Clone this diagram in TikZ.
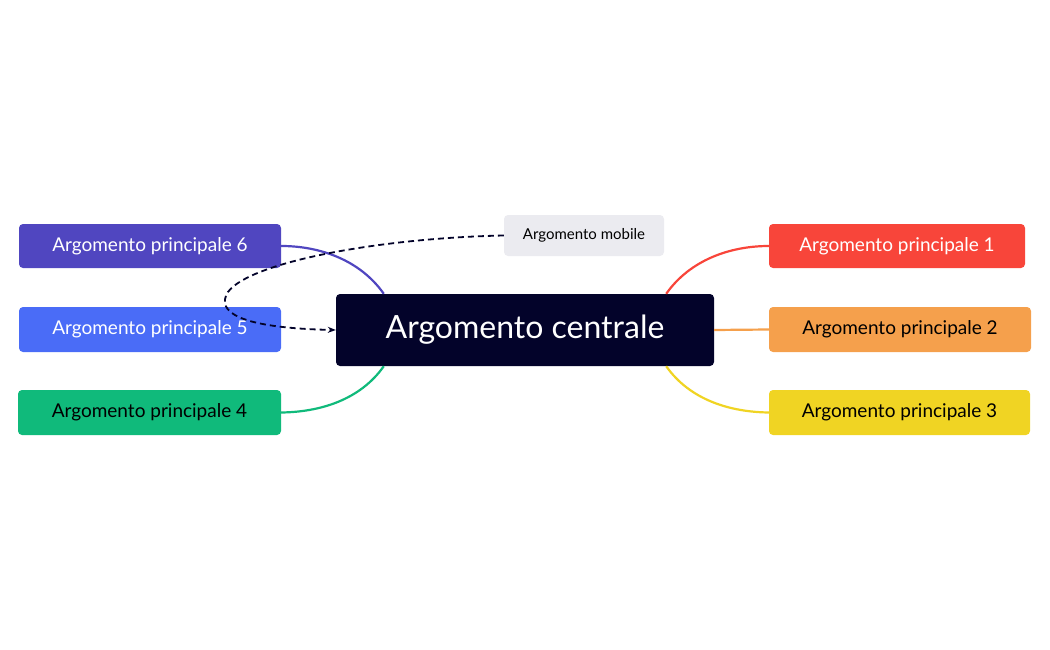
\documentclass[tikz,border=0pt]{standalone}
\usepackage{fontspec}
\setmainfont{Lato}
\usetikzlibrary{arrows.meta}
\definecolor{cnavy}{HTML}{03032A}
\definecolor{c6}{HTML}{5046C0}
\definecolor{c5}{HTML}{4A6CF7}
\definecolor{c4}{HTML}{10BA7B}
\definecolor{c1}{HTML}{F8453A}
\definecolor{c2}{HTML}{F5A04C}
\definecolor{c3}{HTML}{F0D423}
\definecolor{cg}{HTML}{EBEBF0}
\begin{document}
\begin{tikzpicture}[x=1pt,y=-1pt,
  box/.style={rounded corners=4pt,inner sep=0pt,font=\fontsize{19}{22}\selectfont},
  conn/.style={line width=2.2pt}]
\useasboundingbox (0,0) rectangle (1050,650);
\node[box,fill=cnavy,text=white,minimum width=378pt,minimum height=72pt,font=\fontsize{32}{36}\selectfont] (c) at (525,330) {Argomento centrale};
\node[box,fill=c6,text=white,minimum width=262pt,minimum height=44pt] (n6) at (150,246) {Argomento principale 6};
\node[box,fill=c5,text=white,minimum width=262pt,minimum height=45pt] (n5) at (150,329.5) {Argomento principale 5};
\node[box,fill=c4,text=black,minimum width=263pt,minimum height=45pt] (n4) at (149.5,412.5) {Argomento principale 4};
\node[box,fill=c1,text=white,minimum width=256pt,minimum height=44pt] (n1) at (897,246) {Argomento principale 1};
\node[box,fill=c2,text=black,minimum width=262pt,minimum height=45pt] (n2) at (900,329.5) {Argomento principale 2};
\node[box,fill=c3,text=black,minimum width=261pt,minimum height=45pt] (n3) at (899.5,412.5) {Argomento principale 3};
\node[box,fill=cg,text=black,minimum width=160pt,minimum height=41pt,font=\fontsize{15}{18}\selectfont] (m) at (584,235.5) {Argomento mobile};
\begin{scope}[on background layer/.style={}]
\draw[conn,c6] ([xshift=48pt]c.north west) .. controls (360,260) and (320,246) .. (n6.east);
\draw[conn,c4] ([xshift=48pt]c.south west) .. controls (360,400) and (320,412) .. (n4.east);
\draw[conn,c1] ([xshift=-48pt]c.north east) .. controls (690,260) and (730,246) .. (n1.east-|n1.west);
\draw[conn,c2] (c.east) -- (n2.west);
\draw[conn,c3] ([xshift=-48pt]c.south east) .. controls (690,400) and (730,412) .. (n3.west);
\end{scope}
\draw[line width=1.8pt,cnavy,dashed,dash pattern=on 6pt off 4pt,-{Stealth[length=8pt]}] (m.west) .. controls (380,238) and (250,262) .. (228,292) .. controls (215,312) and (240,328) .. (c.west);
\end{tikzpicture}
\end{document}
